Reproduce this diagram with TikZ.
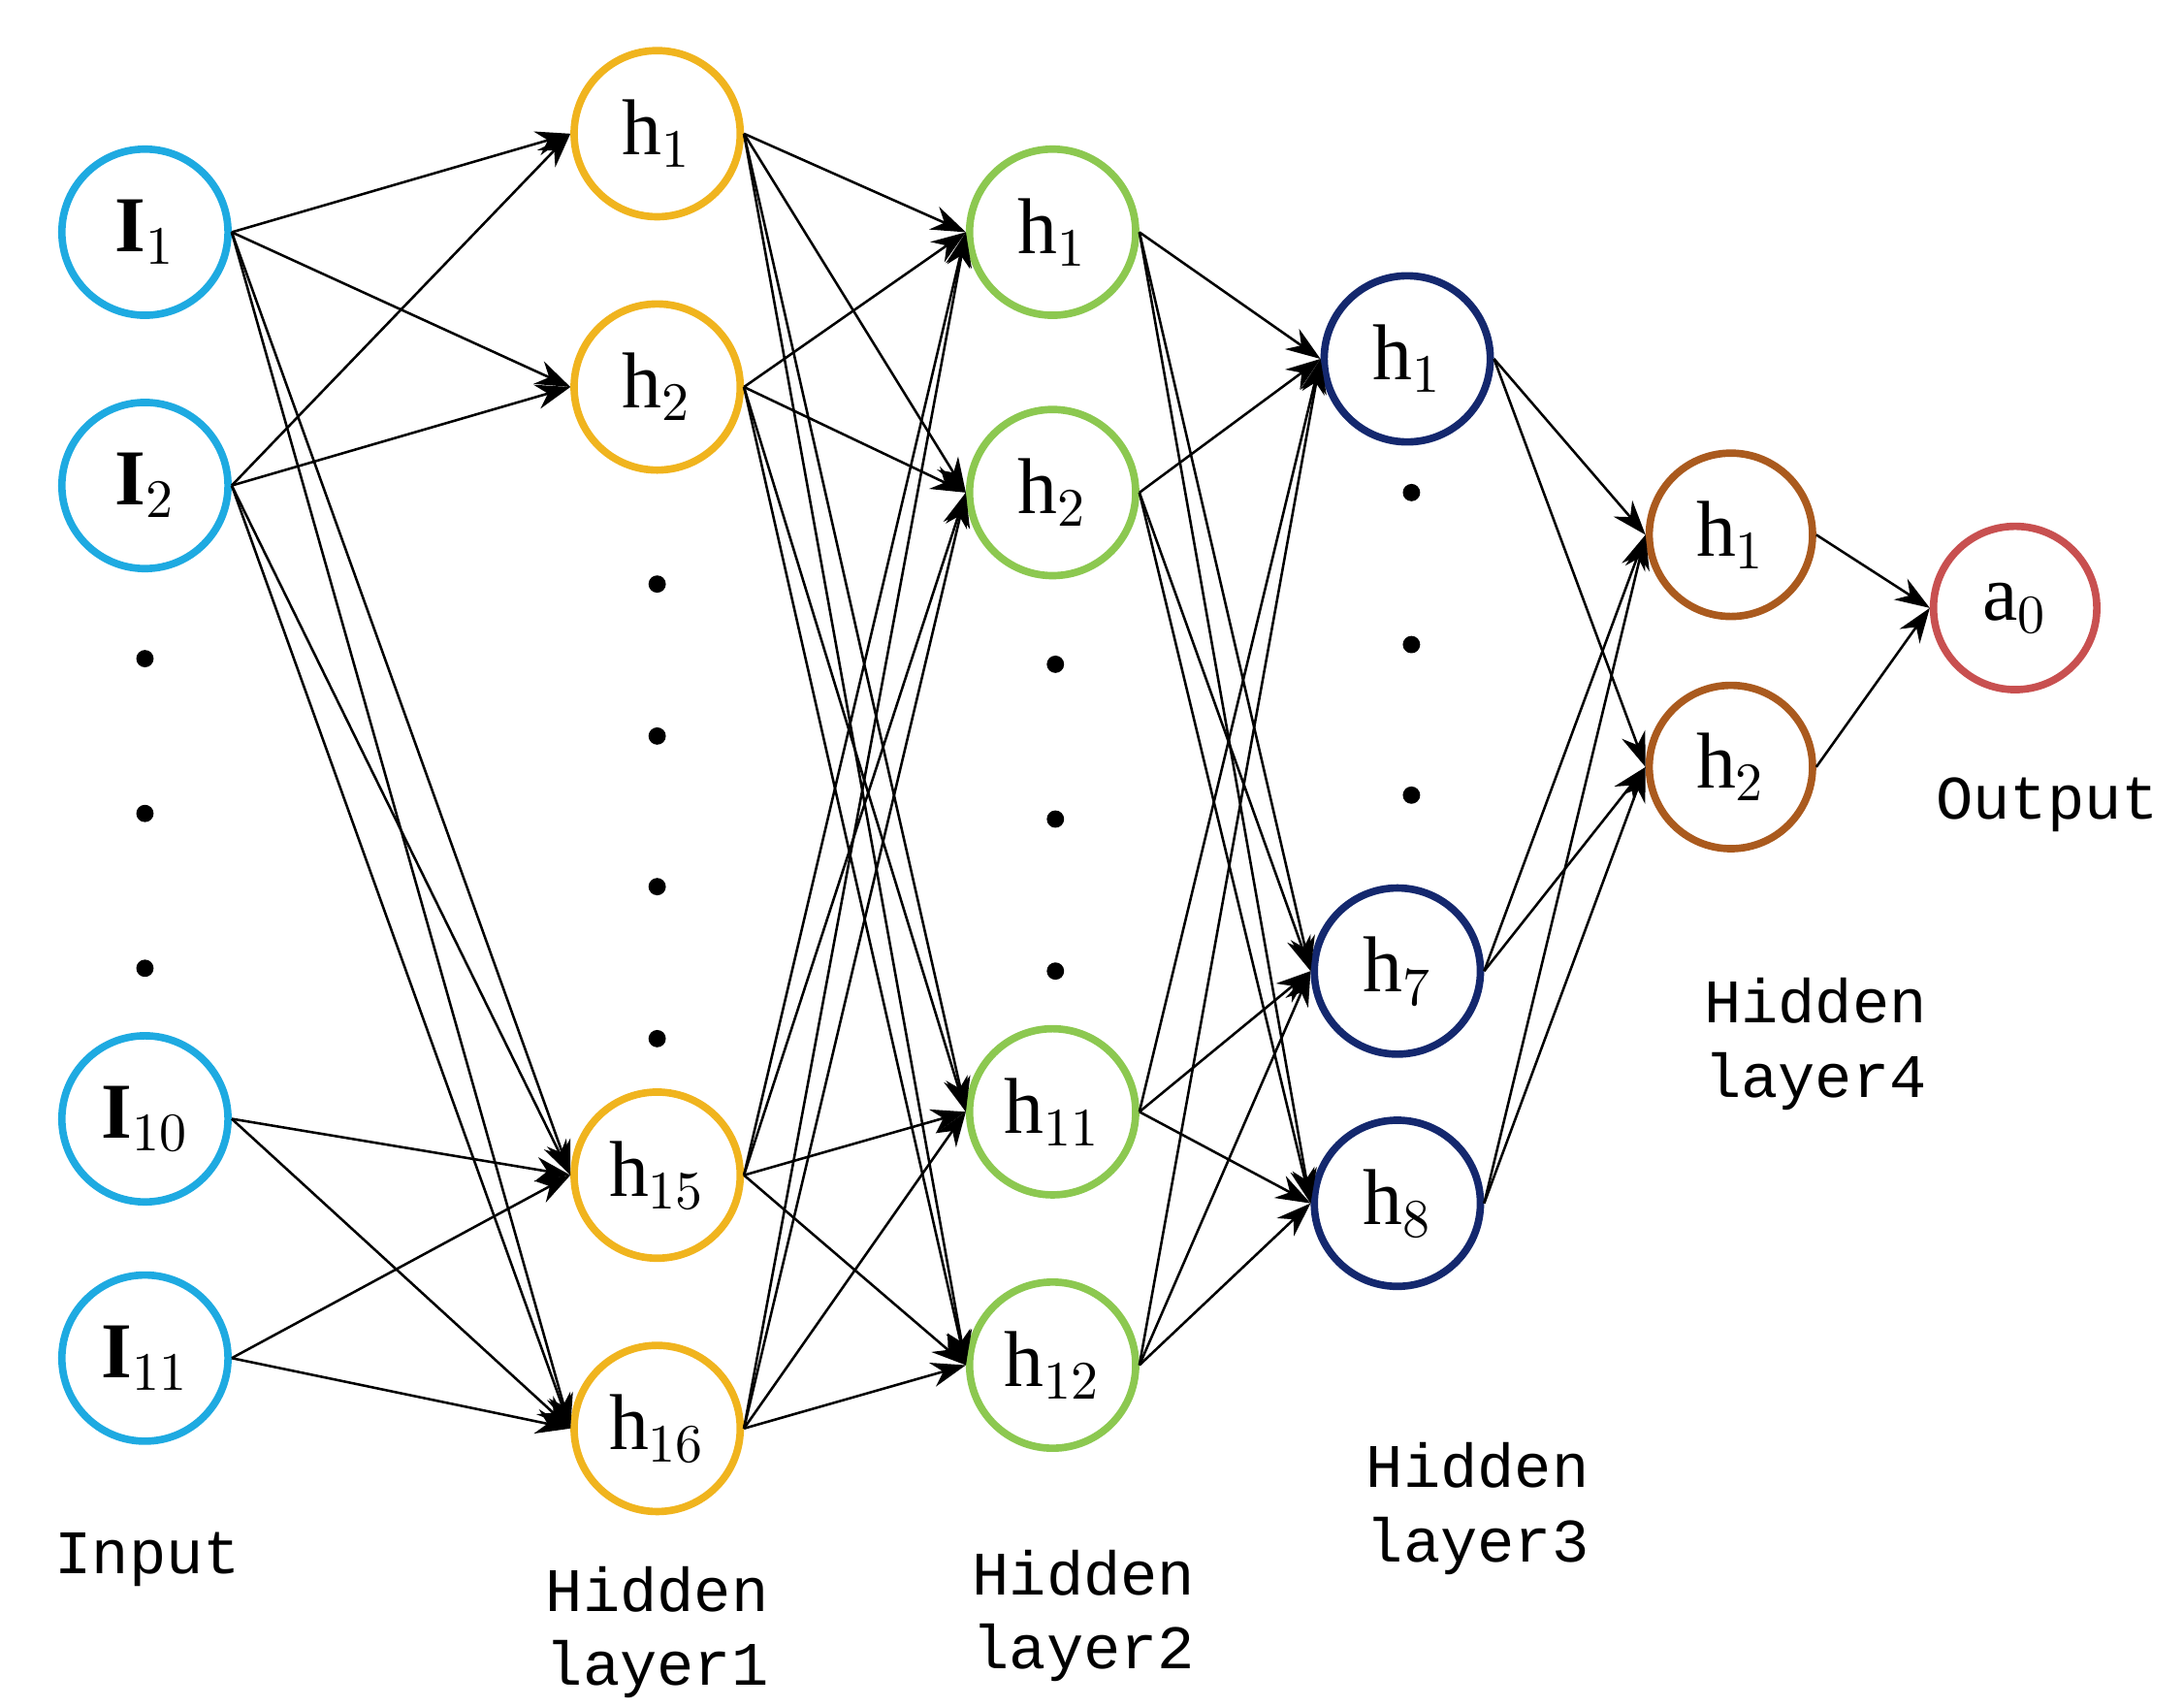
\documentclass[tikz,border=0pt]{standalone}
\usepackage{fontspec}
\setmainfont{Liberation Serif}
\newfontfamily\lblfont{Liberation Mono}
\usetikzlibrary{arrows.meta}
\begin{document}
\begin{tikzpicture}[x=0.01cm,y=-0.01cm,
  neu/.style={circle,draw,line width=1.5pt,minimum size=1.18cm,inner sep=0pt,font=\fontsize{16}{16}\selectfont},
  cin/.style={neu,draw={rgb,255:red,30;green,170;blue,225}},
  c1/.style={neu,draw={rgb,255:red,240;green,180;blue,30}},
  c2/.style={neu,draw={rgb,255:red,140;green,200;blue,80}},
  c3/.style={neu,draw={rgb,255:red,20;green,40;blue,110}},
  c4/.style={neu,draw={rgb,255:red,170;green,90;blue,30},minimum size=1.16cm},
  cout/.style={neu,draw={rgb,255:red,200;green,80;blue,80},minimum size=1.16cm},
  edge/.style={-{Stealth[length=7pt,width=5pt]},line width=0.5pt},
  dot/.style={circle,fill=black,inner sep=0pt,minimum size=3.5pt},
  lbl/.style={font=\lblfont\fontsize{12.5}{15}\selectfont,align=center}]
\useasboundingbox (0,0) rectangle (1552,1213);
\node[cin] (i1) at (103,165) {$\mathbf{I}_1$};
\node[cin] (i2) at (103,345) {$\mathbf{I}_2$};
\node[cin] (i10) at (103,795) {$\mathbf{I}_{10}$};
\node[cin] (i11) at (103,965) {$\mathbf{I}_{11}$};
\foreach \y [count=\k] in {468,578,688} \node[dot] (di\k) at (103,\y) {};
\node[c1] (a1) at (467,95) {h$_1$};
\node[c1] (a2) at (467,275) {h$_2$};
\node[c1] (a15) at (467,835) {h$_{15}$};
\node[c1] (a16) at (467,1015) {h$_{16}$};
\foreach \y [count=\k] in {415,523,630,738} \node[dot] (da\k) at (467,\y) {};
\node[c2] (b1) at (748,165) {h$_1$};
\node[c2] (b2) at (748,350) {h$_2$};
\node[c2] (b11) at (748,790) {h$_{11}$};
\node[c2] (b12) at (748,970) {h$_{12}$};
\foreach \y [count=\k] in {472,582,690} \node[dot] (db\k) at (750,\y) {};
\node[c3] (c1) at (1000,255) {h$_1$};
\node[c3] (c7) at (993,690) {h$_7$};
\node[c3] (c8) at (993,855) {h$_8$};
\foreach \y [count=\k] in {350,458,565} \node[dot] (dc\k) at (1003,\y) {};
\node[c4] (d1) at (1230,380) {h$_1$};
\node[c4] (d2) at (1230,545) {h$_2$};
\node[cout] (o) at (1432,432) {a$_0$};
\foreach \s in {i1,i2} \foreach \t in {a1,a2,a15,a16} \draw[edge] (\s.east) -- (\t.west);
\foreach \s in {i10,i11} \foreach \t in {a15,a16} \draw[edge] (\s.east) -- (\t.west);
\foreach \s in {a1,a2,a15,a16} \foreach \t in {b1,b2,b11,b12} \draw[edge] (\s.east) -- (\t.west);
\foreach \s in {b1,b2,b11,b12} \foreach \t in {c1,c7,c8} \draw[edge] (\s.east) -- (\t.west);
\foreach \s in {c1,c7,c8} \foreach \t in {d1,d2} \draw[edge] (\s.east) -- (\t.west);
\foreach \s in {d1,d2} \draw[edge] (\s.east) -- (o.west);
\node[lbl] (li) at (105,1108) {Input};
\node[lbl] (l1) at (467,1160) {Hidden\\layer1};
\node[lbl] (l2) at (770,1148) {Hidden\\layer2};
\node[lbl] (l3) at (1050,1072) {Hidden\\layer3};
\node[lbl] (l4) at (1290,742) {Hidden\\layer4};
\node[lbl] (lo) at (1455,572) {Output};
\end{tikzpicture}
\end{document}
